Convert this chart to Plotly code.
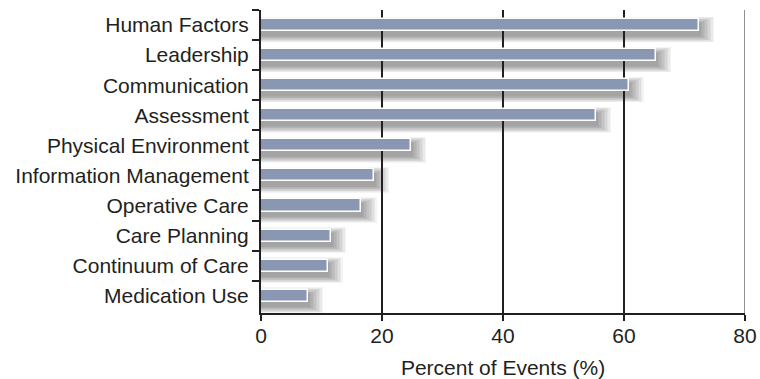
import plotly.graph_objects as go

categories = ["Human Factors", "Leadership", "Communication", "Assessment",
              "Physical Environment", "Information Management", "Operative Care",
              "Care Planning", "Continuum of Care", "Medication Use"]
values = [72.4, 65.3, 60.8, 55.4, 24.8, 18.7, 16.6, 11.6, 11.0, 7.8]
x_ticks = [0, 20, 40, 60, 80]
x_title = "Percent of Events (%)"

BAR_W = 0.4
FONT = dict(family="Liberation Sans, Arial, Helvetica, sans-serif", size=21, color="#231f20")

fig = go.Figure()

# soft drop shadow (several translucent layers)
for k in range(10, 0, -1):
    grow = 0.045 * k
    dx = 0.25 * k
    fig.add_trace(go.Bar(
        y=categories, x=[v + dx for v in values], orientation="h",
        width=BAR_W + grow, offset=-BAR_W / 2 + 0.15 - grow / 2,
        marker=dict(color="rgba(40,40,40,0.05)", line=dict(width=0)),
        hoverinfo="skip", showlegend=False))

fig.add_trace(go.Bar(
    y=categories, x=values, orientation="h",
    width=BAR_W, offset=-BAR_W / 2,
    marker=dict(color="#8a97b3", line=dict(color="white", width=1.5)),
    showlegend=False))

fig.add_shape(type="line", xref="x", yref="paper", x0=80, x1=80, y0=0, y1=1,
              line=dict(color="#6e6e6e", width=1.5), layer="above")

fig.update_layout(
    width=760, height=379,
    margin=dict(l=261, r=15, t=10, b=66, autoexpand=False),
    paper_bgcolor="white", plot_bgcolor="white",
    barmode="overlay", bargap=0,
    font=FONT,
    xaxis=dict(range=[0, 80], tickvals=x_ticks, ticktext=[str(t) for t in x_ticks],
               showgrid=True, gridcolor="#231f20", gridwidth=2,
               showline=True, linecolor="#231f20", linewidth=2,
               ticks="outside", ticklen=6, tickwidth=2, tickcolor="#231f20",
               zeroline=False, layer="below traces", automargin=False,
               ticklabelstandoff=-3,
               title=dict(text=x_title, font=FONT, standoff=14)),
    yaxis=dict(autorange="reversed", type="category",
               showline=True, linecolor="#231f20", linewidth=2,
               ticks="outside", ticklen=7, tickwidth=2, tickcolor="#231f20",
               tickson="boundaries", showgrid=False, zeroline=False,
               automargin=False, ticklabelstandoff=6),
)

fig.write_html("out.html", config={"displayModeBar": False},
               post_script="document.body.style.margin='0';document.body.style.overflow='hidden';")
